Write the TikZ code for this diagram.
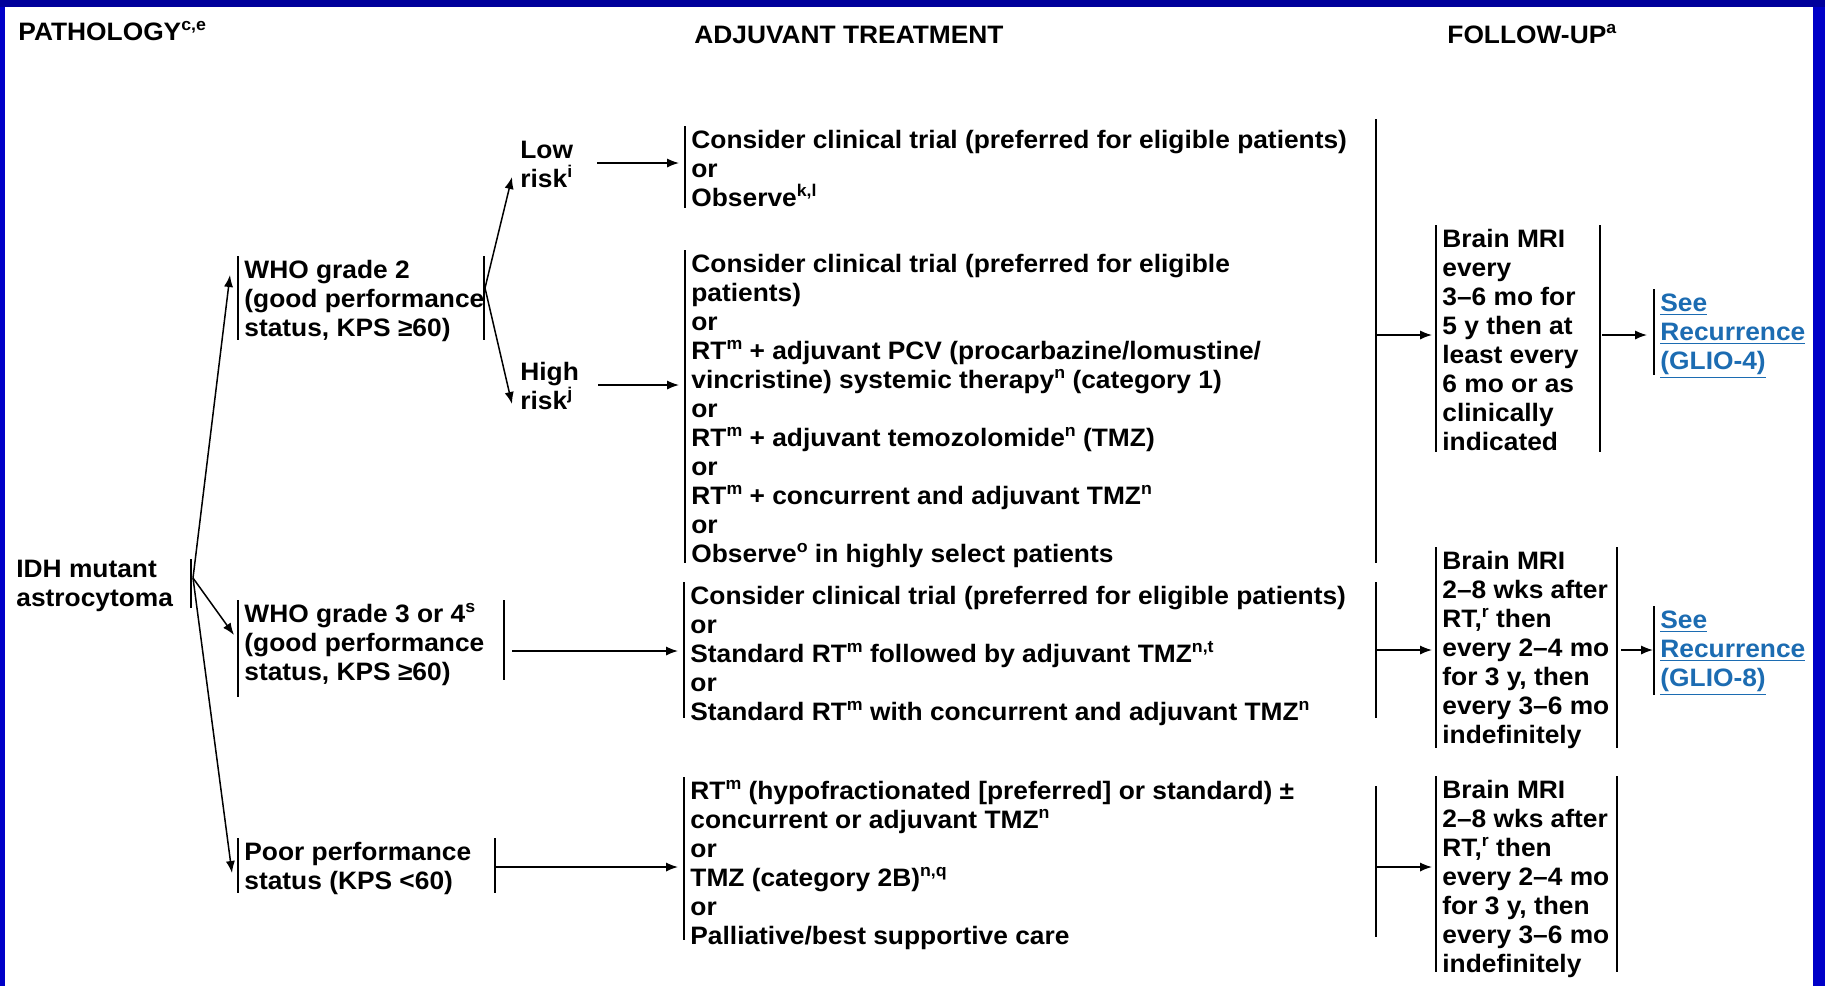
\documentclass[tikz,border=0pt]{standalone}
\usepackage{fontspec}
\setmainfont{Liberation Sans}[FakeStretch=1.045]
\usetikzlibrary{arrows.meta,calc}

\definecolor{frameblue}{RGB}{0,0,200}
\definecolor{frametop}{RGB}{0,0,155}
\definecolor{linkblue}{RGB}{28,108,178}

% footnote markers set as small raised letters that do not push lines apart
\newcommand\fnote[1]{\raisebox{5.2pt}[0pt][0pt]{\fontsize{8.5}{8.5}\selectfont #1}}
\newcommand\lnk[1]{\underline{#1}}
% strut for the first line of a box: fixes where the first baseline sits
\newcommand\topline{\rule{0pt}{11pt}}

\tikzset{
  every node/.style={font=\fontsize{12.6}{14.5}\selectfont\bfseries},
  hdr/.style={anchor=west, inner sep=0pt},
  optbox/.style={anchor=north west, align=left, inner xsep=3pt, inner ysep=0pt},
  plain/.style={anchor=north west, align=left, inner sep=0pt},
  bar/.style={line width=1.1pt},
  arr/.style={line width=0.75pt, -{Latex[length=6pt,width=4.6pt]}},
  link/.style={text=linkblue},
}

\begin{document}
\begin{tikzpicture}[x=0.5pt, y=-0.5pt]
\useasboundingbox (0,0) rectangle (1825,986);

% slide frame
\fill[white] (0,0) rectangle (1825,986);
\fill[frameblue] (0,0) rectangle (5,986);
\fill[frameblue] (1813,0) rectangle (1825,986);
\fill[frametop] (0,0) rectangle (1825,7);

% column headings
\node[hdr] (hpath) at (18,32) {PATHOLOGY\fnote{c,e}};
\node[hdr] (hadj) at (694,35) {ADJUVANT TREATMENT};
\node[hdr] (hfol) at (1447,35) {FOLLOW-UP\fnote{a}};

% x positions of the free-standing bars
\coordinate (xidh) at (191,0);
\coordinate (xw2) at (484,0);
\coordinate (xw3) at (504,0);
\coordinate (xpo) at (495,0);
\coordinate (xcol) at (1376,0);
\coordinate (xf1) at (1600,0);
\coordinate (xf2) at (1617,0);

% pathology
\node[plain] (idh) at (16,555) {\topline IDH mutant\\astrocytoma};
\node[optbox] (who2) at (238,256) {\topline WHO grade 2\\(good performance\\status, KPS ≥60)};
\node[optbox] (who3) at (238,600) {\topline WHO grade 3 or 4\fnote{s}\\(good performance\\status, KPS ≥60)};
\node[optbox] (poor) at (238,838) {\topline Poor performance\\status (KPS <60)};
\node[plain] (lowr) at (520,136) {\topline Low\\risk\fnote{i}};
\node[plain] (highr) at (520,358) {\topline High\\risk\fnote{j}};

% adjuvant treatment
\node[optbox] (tb1) at (685,126) {\topline Consider clinical trial (preferred for eligible patients)\\or\\Observe\fnote{k,l}};
\node[optbox] (tb2) at (685,250) {\topline Consider clinical trial (preferred for eligible\\patients)\\or\\RT\fnote{m} + adjuvant PCV (procarbazine/lomustine/\\vincristine) systemic therapy\fnote{n} (category 1)\\or\\RT\fnote{m} + adjuvant temozolomide\fnote{n} (TMZ)\\or\\RT\fnote{m} + concurrent and adjuvant TMZ\fnote{n}\\or\\Observe\fnote{o} in highly select patients};
\node[optbox] (tb3) at (684,582) {\topline Consider clinical trial (preferred for eligible patients)\\or\\Standard RT\fnote{m} followed by adjuvant TMZ\fnote{n,t}\\or\\Standard RT\fnote{m} with concurrent and adjuvant TMZ\fnote{n}};
\node[optbox] (tb4) at (684,777) {\topline RT\fnote{m} (hypofractionated [preferred] or standard) ±\\concurrent or adjuvant TMZ\fnote{n}\\or\\TMZ (category 2B)\fnote{n,q}\\or\\Palliative/best supportive care};

% follow-up
\node[optbox] (fu1) at (1436,225) {\topline Brain MRI\\every\\3–6 mo for\\5 y then at\\least every\\6 mo or as\\clinically\\indicated};
\node[optbox] (fu2) at (1436,547) {\topline Brain MRI\\2–8 wks after\\RT,\fnote{r} then\\every 2–4 mo\\for 3 y, then\\every 3–6 mo\\indefinitely};
\node[optbox] (fu3) at (1436,776) {\topline Brain MRI\\2–8 wks after\\RT,\fnote{r} then\\every 2–4 mo\\for 3 y, then\\every 3–6 mo\\indefinitely};
\node[optbox, link] (see1) at (1654,289) {\topline\lnk{See}\\\lnk{Recurrence}\\\lnk{(GLIO-4)}};
\node[optbox, link] (see2) at (1654,606) {\topline\lnk{See}\\\lnk{Recurrence}\\\lnk{(GLIO-8)}};

% left bars of the option boxes (length in px)
\foreach \n/\len in {who2/84, who3/97, poor/55, tb1/82, tb2/313, tb3/136, tb4/163,
                      fu1/227, fu2/201, fu3/196, see1/86, see2/89}
  \draw[bar] (\n.north west) -- ++(0,\len);

% right-hand bars
\draw[bar] ($(idh.north -| xidh)+(0,4)$) -- ++(0,49);
\draw[bar] (who2.north west -| xw2) -- ++(0,84);
\draw[bar] (who3.north west -| xw3) -- ++(0,80);
\draw[bar] (poor.north west -| xpo) -- ++(0,55);
\draw[bar] (fu1.north west -| xf1) -- ++(0,227);
\draw[bar] (fu2.north west -| xf2) -- ++(0,201);
\draw[bar] (fu3.north west -| xf2) -- ++(0,196);

% collector lines in front of the follow-up column
\draw[bar] ($(tb1.north west -| xcol)+(0,-7)$) -- ($(tb2.north west -| xcol)+(0,313)$);
\draw[bar] (tb3.north west -| xcol) -- ++(0,136);
\draw[bar] ($(tb4.north west -| xcol)+(0,9)$) -- ++(0,151);

% branching from the pathology
\coordinate (idhm) at ($(idh.north -| xidh)+(2,23)$);
\draw[arr] (idhm) -- ($(who2.north west)+(-8,19)$);
\draw[arr] (idhm) -- ($(who3.north west)+(-4,35)$);
\draw[arr] (idhm) -- ($(poor.north west)+(-6,35)$);

\coordinate (w2m) at ($(who2.north west -| xw2)+(1,32)$);
\draw[arr] (w2m) -- ($(lowr.north west)+(-8,41)$);
\draw[arr] (w2m) -- ($(highr.north west)+(-8,46)$);

% into the treatment column
\coordinate (lowx) at ($(lowr.north east)+(0,27)$);
\coordinate (highx) at ($(highr.north east)+(0,27)$);
\coordinate (w3x) at ($(tb3.north west -| xw3)+(0,69)$);
\coordinate (pox) at ($(poor.north west -| xpo)+(0,29)$);
\draw[arr, shorten <=12pt, shorten >=3pt] (lowx) -- (lowx -| tb1.west);
\draw[arr, shorten <=9.5pt, shorten >=3pt] (highx) -- (highx -| tb2.west);
\draw[arr, shorten <=4pt, shorten >=3pt] (w3x) -- (w3x -| tb3.west);
\draw[arr, shorten >=3pt] (pox) -- (pox -| tb4.west);

% into the follow-up column
\coordinate (c1x) at ($(fu1.north west -| xcol)+(0,110)$);
\coordinate (c2x) at ($(fu2.north west -| xcol)+(0,103)$);
\coordinate (c3x) at ($(fu3.north west -| xcol)+(0,91)$);
\draw[arr, shorten >=2pt] (c1x) -- (c1x -| fu1.west);
\draw[arr, shorten >=2pt] (c2x) -- (c2x -| fu2.west);
\draw[arr, shorten >=2pt] (c3x) -- (c3x -| fu3.west);

% on to recurrence
\coordinate (r1x) at ($(see1.north west -| xf1)+(0,46)$);
\coordinate (r2x) at ($(see2.north west -| xf2)+(0,44)$);
\draw[arr, shorten <=1pt, shorten >=3.5pt] (r1x) -- (r1x -| see1.west);
\draw[arr, shorten <=2pt, shorten >=0.5pt] (r2x) -- (r2x -| see2.west);
\end{tikzpicture}
\end{document}
